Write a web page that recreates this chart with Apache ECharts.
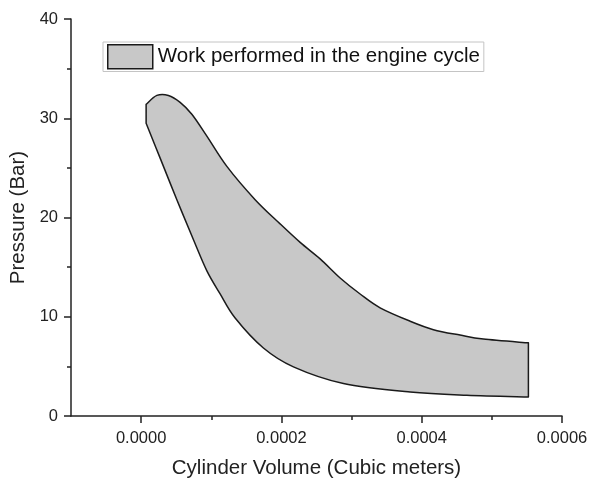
<!DOCTYPE html>
<html>
<head>
<meta charset="utf-8">
<script src="https://cdn.jsdelivr.net/npm/echarts@6/dist/echarts.min.js"></script>
<style>
  html, body { margin: 0; padding: 0; background: #fff; }
  #chart { width: 598px; height: 478px; }
</style>
</head>
<body>
<div id="chart"></div>
<script>
// expansion stroke (upper boundary), left to right
const upperX = [0.0000071, 0.0000224, 0.0000389, 0.0000556, 0.0000723, 0.0000937, 0.0001222,
  0.0001625, 0.0001981, 0.0002267, 0.0002552, 0.0002837, 0.0003122, 0.0003407, 0.0003835,
  0.0004167, 0.0004547, 0.0004880, 0.0005521];
const upperY = [31.4, 32.3, 32.3, 31.6, 30.4, 28.2, 25.15, 21.8, 19.36, 17.49, 15.83, 13.91,
  12.29, 10.9, 9.55, 8.7, 8.15, 7.75, 7.37];

// compression stroke (lower boundary), left to right
const lowerX = [0.0000071, 0.0000271, 0.0000509, 0.0000746, 0.0000937, 0.0001126, 0.0001340,
  0.0001743, 0.0002171, 0.0002884, 0.0003835, 0.0004643, 0.0005521];
const lowerY = [29.5, 25.98, 21.79, 17.75, 14.62, 12.3, 9.87, 6.85, 4.95, 3.27, 2.42, 2.09, 1.92];

const xMajor = [0, 0.0002, 0.0004, 0.0006];
const xMinor = [0.0001, 0.0003, 0.0005];

const seriesName = 'Work performed in the engine cycle';
const font = '"Liberation Sans", Arial, sans-serif';
const fillColor = '#c8c8c8';
const edgeColor = '#1a1a1a';
const inkColor = '#222';

// catmull-rom through pixel points, returned as svg path segments (no leading M)
function curveSegs(pts) {
  let d = '';
  for (let i = 0; i < pts.length - 1; i++) {
    const p0 = pts[Math.max(i - 1, 0)], p1 = pts[i], p2 = pts[i + 1];
    const p3 = pts[Math.min(i + 2, pts.length - 1)];
    const c1 = [p1[0] + (p2[0] - p0[0]) / 6, p1[1] + (p2[1] - p0[1]) / 6];
    const c2 = [p2[0] - (p3[0] - p1[0]) / 6, p2[1] - (p3[1] - p1[1]) / 6];
    d += ` C${c1[0]},${c1[1]} ${c2[0]},${c2[1]} ${p2[0]},${p2[1]}`;
  }
  return d;
}

const chart = echarts.init(document.getElementById('chart'));

chart.setOption({
  backgroundColor: '#fff',
  animation: false,
  textStyle: { fontFamily: font },
  grid: { left: 71, right: 36, top: 19, bottom: 62, containLabel: false, outerBoundsMode: 'none' },
  legend: {
    left: 103,
    top: 42,
    padding: [2, 4, 2, 4],
    borderColor: '#c4c4c4',
    borderWidth: 1,
    icon: 'rect',
    itemWidth: 45,
    itemHeight: 24,
    itemStyle: { color: fillColor, borderColor: edgeColor, borderWidth: 1.5 },
    textStyle: { fontSize: 20.5, color: '#111', fontFamily: font },
    data: [seriesName]
  },
  xAxis: [{
    type: 'value',
    min: -0.0001,
    max: 0.0006,
    name: 'Cylinder Volume (Cubic meters)',
    nameLocation: 'middle',
    nameGap: 42,
    nameTextStyle: { fontSize: 20.5, color: inkColor, fontFamily: font },
    axisLine: { show: true, onZero: false, lineStyle: { color: inkColor, width: 1.5 } },
    axisTick: { show: true, length: 7, customValues: xMajor, lineStyle: { color: inkColor, width: 1.5 } },
    axisLabel: { customValues: xMajor, margin: 14, fontSize: 16.5, color: inkColor,
      formatter: v => v.toFixed(4) },
    splitLine: { show: false }
  }, {
    type: 'value',
    min: -0.0001,
    max: 0.0006,
    position: 'bottom',
    axisLine: { show: false, onZero: false },
    axisTick: { show: true, length: 4, customValues: xMinor, lineStyle: { color: inkColor, width: 1.5 } },
    axisLabel: { show: false },
    splitLine: { show: false }
  }],
  yAxis: {
    type: 'value',
    min: 0,
    max: 40,
    interval: 10,
    name: 'Pressure (Bar)',
    nameLocation: 'middle',
    nameGap: 37,
    nameTextStyle: { fontSize: 20.5, color: inkColor, fontFamily: font },
    axisLine: { show: true, onZero: false, lineStyle: { color: inkColor, width: 1.5 } },
    axisTick: { show: true, length: 7, lineStyle: { color: inkColor, width: 1.5 } },
    minorTick: { show: true, splitNumber: 2, length: 4, lineStyle: { color: inkColor, width: 1.5 } },
    axisLabel: { margin: 13, fontSize: 16.5, color: inkColor },
    splitLine: { show: false }
  },
  series: [{
    name: seriesName,
    type: 'custom',
    xAxisIndex: 0,
    itemStyle: { color: fillColor, borderColor: edgeColor, borderWidth: 1.5 },
    data: [[0, 0]],
    renderItem: (params, api) => {
      const up = upperX.map((x, i) => api.coord([x, upperY[i]]));
      const lo = lowerX.map((x, i) => api.coord([x, lowerY[i]])).reverse();
      let d = `M${up[0][0]},${up[0][1]}` + curveSegs(up);
      d += ` L${lo[0][0]},${lo[0][1]}` + curveSegs(lo) + ' Z';
      return {
        type: 'path',
        shape: { pathData: d },
        style: { fill: fillColor, stroke: edgeColor, lineWidth: 1.5, lineJoin: 'round' }
      };
    }
  }]
});
</script>
</body>
</html>
